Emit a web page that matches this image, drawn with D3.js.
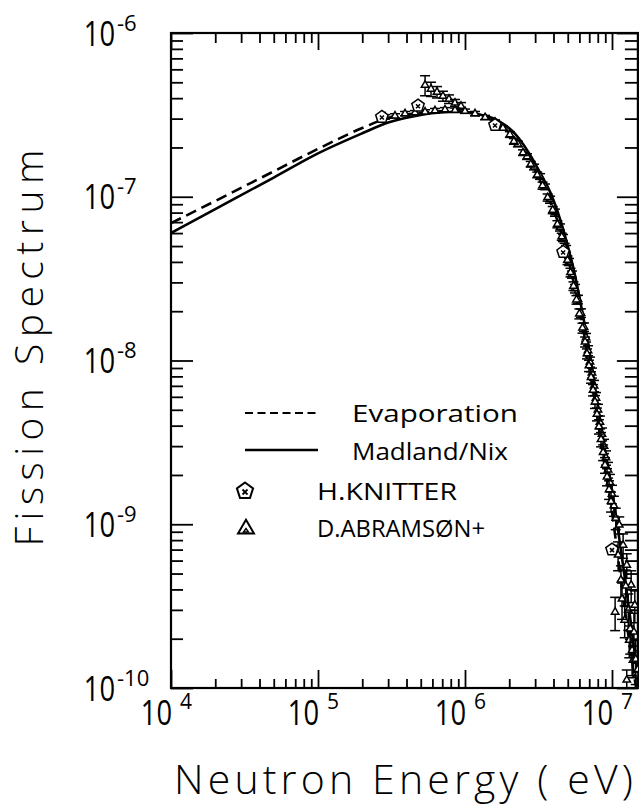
<!DOCTYPE html>
<html><head><meta charset="utf-8">
<script src="https://cdn.jsdelivr.net/npm/d3@7"></script>
<style>body{margin:0;background:#fff}svg{display:block}</style>
</head><body>
<svg id="c" width="639" height="805"></svg>
<script>
// ---------------- data ----------------
const xTicks = [1e4, 1e5, 1e6, 1e7];
const xTickExps = ["4", "5", "6", "7"];
const yTicks = [1e-6, 1e-7, 1e-8, 1e-9, 1e-10];
const yTickExps = ["-6", "-7", "-8", "-9", "-10"];

const xTitle = "Neutron Energy ( eV)";
const yTitle = "Fission Spectrum";
const legendLabels = ["Evaporation", "Madland/Nix", "H.KNITTER", "D.ABRAMSØN+"];

const curveE = [1e4, 2e4, 5e4, 1e5, 2e5, 3e5, 5e5, 8e5, 1.0e6, 1.3e6, 1.7e6, 2.2e6, 2.7e6, 3.3e6,
  3.9e6, 4.5e6, 5.0e6, 5.5e6, 6.0e6, 7.0e6, 8.0e6, 9.0e6, 1.0e7, 1.1e7, 1.2e7, 1.35e7, 1.5e7];
const madlandNix = [6.0e-8, 8.4e-8, 1.31e-7, 1.84e-7, 2.44e-7, 2.84e-7, 3.16e-7, 3.29e-7, 3.29e-7,
  3.16e-7, 2.90e-7, 2.41e-7, 1.87e-7, 1.36e-7, 1.01e-7, 7.0e-8, 5.0e-8, 3.57e-8, 2.45e-8,
  1.15e-8, 5.35e-9, 2.76e-9, 1.62e-9, 9.2e-10, 5.3e-10, 2.43e-10, 1.12e-10];
const evaporation = [6.9e-8, 9.42e-8, 1.43e-7, 1.96e-7, 2.63e-7, 3.03e-7, 3.25e-7, 3.34e-7, 3.29e-7,
  3.11e-7, 2.78e-7, 2.25e-7, 1.73e-7, 1.21e-7, 8.8e-8, 6.1e-8, 4.29e-8, 2.97e-8, 2.09e-8,
  9.4e-9, 4.33e-9, 2.14e-9, 1.19e-9, 6.2e-10, 3.44e-10, 1.59e-10, 8.5e-11];

const knitterE = [2.72e5, 4.79e5, 1.6e6, 4.65e6, 1.0e7];
const knitterV = [3.07e-7, 3.6e-7, 2.74e-7, 4.6e-8, 7.0e-10];

const abramsonE = [
  5.35e5, 5.87e5, 6.45e5, 7.08e5, 7.78e5, 8.55e5, 9.39e5,
  2.86e5, 3.34e5, 3.91e5, 4.57e5, 5.35e5, 6.25e5, 7.31e5, 8.55e5, 1.0e6, 1.17e6, 1.37e6, 1.60e6,
  1.81e6, 2.02e6, 2.29e6, 2.64e6, 2.95e6, 3.24e6, 3.50e6, 3.79e6, 4.09e6, 4.43e6, 4.64e6, 4.87e6,
  5.10e6, 5.34e6, 5.60e6, 5.87e6, 6.15e6, 6.45e6, 6.66e6, 6.87e6, 7.08e6, 7.31e6, 7.55e6, 7.78e6,
  8.03e6, 8.28e6, 8.55e6, 8.83e6, 9.10e6, 9.40e6, 9.69e6, 1.0e7, 1.03e7, 1.06e7,
  2.15e6, 2.48e6, 2.80e6, 3.10e6, 3.37e6, 3.65e6, 3.95e6, 4.25e6, 4.55e6, 4.76e6, 4.98e6, 5.22e6,
  5.47e6, 5.73e6, 6.0e6, 6.30e6, 6.56e6, 6.76e6, 6.97e6, 7.20e6, 7.43e6, 7.66e6, 7.90e6, 8.15e6,
  8.42e6, 8.70e6, 8.96e6, 9.25e6, 9.55e6, 9.85e6,
  1.05e7, 1.12e7, 1.15e7, 1.19e7, 1.22e7, 1.26e7, 1.26e7, 1.31e7, 1.35e7, 1.39e7, 1.43e7, 1.48e7,
  1.10e7, 1.17e7, 1.24e7, 1.29e7, 1.33e7, 1.37e7, 1.41e7, 1.45e7, 1.50e7];
const abramsonV = [
  4.81e-7, 4.55e-7, 4.36e-7, 4.12e-7, 3.95e-7, 3.74e-7, 3.58e-7,
  3.08e-7, 3.12e-7, 3.22e-7, 3.26e-7, 3.30e-7, 3.36e-7, 3.40e-7, 3.38e-7, 3.33e-7, 3.22e-7, 3.05e-7, 2.86e-7,
  2.63e-7, 2.40e-7, 2.10e-7, 1.76e-7, 1.52e-7, 1.33e-7, 1.15e-7, 9.6e-8, 8.0e-8, 6.5e-8, 5.6e-8, 4.8e-8,
  4.0e-8, 3.35e-8, 2.75e-8, 2.36e-8, 1.95e-8, 1.60e-8, 1.38e-8, 1.15e-8, 9.8e-9, 8.4e-9, 7.0e-9, 5.9e-9,
  5.0e-9, 4.2e-9, 3.55e-9, 3.0e-9, 2.55e-9, 2.15e-9, 1.80e-9, 1.53e-9, 1.30e-9, 1.09e-9,
  2.18e-7, 1.86e-7, 1.58e-7, 1.36e-7, 1.17e-7, 9.9e-8, 8.3e-8, 6.8e-8, 5.7e-8, 4.9e-8, 4.1e-8, 3.45e-8,
  2.85e-8, 2.35e-8, 1.93e-8, 1.58e-8, 1.30e-8, 1.10e-8, 9.3e-9, 7.9e-9, 6.6e-9, 5.6e-9, 4.7e-9, 3.95e-9,
  3.3e-9, 2.75e-9, 2.3e-9, 1.95e-9, 1.63e-9, 1.38e-9,
  2.91e-10, 9.9e-10, 4.57e-10, 7.46e-10, 2.60e-10, 5.64e-10, 1.12e-10, 1.96e-10, 4.26e-10, 1.48e-10, 3.21e-10, 1.20e-10,
  6.5e-10, 3.5e-10, 4.2e-10, 3.0e-10, 2.3e-10, 1.7e-10, 2.2e-10, 1.5e-10, 1.3e-10];
const abramsonRelErr = [
  0.14, 0.10, 0.08, 0.07, 0.06, 0.05, 0.05,
  0.03, 0.03, 0.03, 0.03, 0.03, 0.03, 0.03, 0.03, 0.03, 0.03, 0.03, 0.03,
  0.03, 0.04, 0.04, 0.04, 0.04, 0.04, 0.04, 0.05, 0.05, 0.05, 0.05, 0.05,
  0.05, 0.05, 0.06, 0.06, 0.06, 0.06, 0.06, 0.07, 0.07, 0.07, 0.08, 0.08,
  0.08, 0.09, 0.09, 0.10, 0.10, 0.11, 0.12, 0.13, 0.14, 0.15,
  0.04, 0.04, 0.04, 0.04, 0.05, 0.05, 0.05, 0.05, 0.05, 0.06, 0.06, 0.06,
  0.06, 0.06, 0.07, 0.07, 0.07, 0.07, 0.08, 0.08, 0.08, 0.09, 0.09, 0.10,
  0.10, 0.11, 0.11, 0.12, 0.13, 0.14,
  0.23, 0.12, 0.22, 0.17, 0.22, 0.17, 0.15, 0.22, 0.22, 0.22, 0.22, 0.18,
  0.20, 0.25, 0.25, 0.25, 0.30, 0.30, 0.30, 0.30, 0.30];

// ---------------- drawing ----------------
const svg = d3.select("#c");
const L = 171, T = 33, B = 688;
const x = d3.scaleLog().domain([1e4, 1.5e7]).range([L, L + 147 * Math.log10(1500)]);
const y = d3.scaleLog().domain([1e-10, 1e-6]).range([B, T]);
const R = x.range()[1];
const FONT = "'Open Sans', 'DejaVu Sans', sans-serif";

svg.append("rect").attr("width", 639).attr("height", 805).attr("fill", "#fff");

svg.append("defs").append("clipPath").attr("id", "clip")
  .append("rect").attr("x", L).attr("y", T).attr("width", R - L).attr("height", B - T);

const decadesX = [4, 5, 6, 7];
const xMinor = decadesX.flatMap(k => d3.range(2, 10).map(m => m * Math.pow(10, k)))
  .filter(v => v > x.domain()[0] && v < x.domain()[1]);
const decadesY = [-10, -9, -8, -7];
const yMinor = decadesY.flatMap(k => d3.range(2, 10).map(m => m * Math.pow(10, k)));

function tickAxis(axis, transform) {
  const g = svg.append("g").attr("transform", transform).call(axis);
  g.select(".domain").remove();
  g.selectAll("text").remove();
  g.selectAll("line").attr("stroke", "#000").attr("stroke-width", 1.8);
  return g;
}
tickAxis(d3.axisBottom(x).tickValues(xMinor).tickSize(-9).tickSizeOuter(0), `translate(0,${B})`);
tickAxis(d3.axisBottom(x).tickValues(xTicks).tickSize(-18).tickSizeOuter(0), `translate(0,${B})`);
tickAxis(d3.axisTop(x).tickValues(xMinor).tickSize(-10).tickSizeOuter(0), `translate(0,${T})`);
tickAxis(d3.axisTop(x).tickValues(xTicks).tickSize(-17).tickSizeOuter(0), `translate(0,${T})`);
tickAxis(d3.axisLeft(y).tickValues(yMinor).tickSize(-12).tickSizeOuter(0), `translate(${L},0)`);
tickAxis(d3.axisLeft(y).tickValues(yTicks).tickSize(-22).tickSizeOuter(0), `translate(${L},0)`);
tickAxis(d3.axisRight(y).tickValues(yMinor).tickSize(-13).tickSizeOuter(0), `translate(${R},0)`);
tickAxis(d3.axisRight(y).tickValues(yTicks).tickSize(-21).tickSizeOuter(0), `translate(${R},0)`);

svg.append("rect").attr("x", L).attr("y", T).attr("width", R - L).attr("height", B - T)
  .attr("fill", "none").attr("stroke", "#000").attr("stroke-width", 2.2);

// tick labels
function label(px, py, txt, size, anchor, sx) {
  svg.append("text")
    .attr("transform", `translate(${px},${py}) scale(${sx},1)`)
    .attr("text-anchor", anchor)
    .attr("font-family", FONT).attr("font-weight", 400).attr("font-size", size).attr("fill", "#000")
    .text(txt);
}
yTicks.forEach((v, i) => {
  const ty = y(v);
  label(115, ty + 12.5, "10", 35, "end", 0.78);
  label(117, ty - 2.5, yTickExps[i], 21, "start", 1.05);
});
xTicks.forEach((v, i) => {
  const tx = x(v);
  label(tx + 1, 725, "10", 35, "end", 0.78);
  label(tx + 9, 709, xTickExps[i], 21, "start", 1.0);
});

// axis titles
svg.append("text")
  .attr("x", 174).attr("y", 794)
  .attr("font-family", FONT).attr("font-weight", 350).attr("font-size", 41).attr("fill", "#000")
  .attr("textLength", 459).attr("lengthAdjust", "spacing")
  .text(xTitle);
svg.append("text")
  .attr("transform", "translate(43,348) rotate(-90)")
  .attr("text-anchor", "middle")
  .attr("font-family", FONT).attr("font-weight", 350).attr("font-size", 39).attr("fill", "#000")
  .attr("textLength", 397).attr("lengthAdjust", "spacing")
  .text(yTitle);

// plot content
const plot = svg.append("g").attr("clip-path", "url(#clip)");
const line = d3.line().curve(d3.curveMonotoneX)
  .x(d => x(d[0])).y(d => y(d[1]));

plot.append("path").datum(curveE.map((e, i) => [e, evaporation[i]]))
  .attr("d", line).attr("fill", "none").attr("stroke", "#000")
  .attr("stroke-width", 2.6).attr("stroke-dasharray", "11,6");
plot.append("path").datum(curveE.map((e, i) => [e, madlandNix[i]]))
  .attr("d", line).attr("fill", "none").attr("stroke", "#000")
  .attr("stroke-width", 2.6);

function pentagon(r) {
  const pts = d3.range(5).map(k => {
    const a = -Math.PI / 2 + k * 2 * Math.PI / 5;
    return [r * Math.cos(a), r * Math.sin(a)];
  });
  return "M" + pts.map(p => p.join(",")).join("L") + "Z";
}
const tri = d3.symbol().type(d3.symbolTriangle);

// Abramson points
const abr = abramsonE.map((e, i) => ({ e, v: abramsonV[i], r: abramsonRelErr[i] }));
const ag = plot.append("g").attr("stroke", "#000").attr("fill", "none").attr("stroke-width", 1.5);
abr.forEach(d => {
  const px = x(d.e), lo = y(d.v * (1 - d.r)), hi = y(d.v * (1 + d.r));
  ag.append("line").attr("x1", px).attr("x2", px).attr("y1", lo).attr("y2", hi);
  ag.append("line").attr("x1", px - 5).attr("x2", px + 5).attr("y1", lo).attr("y2", lo);
  ag.append("line").attr("x1", px - 5).attr("x2", px + 5).attr("y1", hi).attr("y2", hi);
  ag.append("path").attr("d", tri.size(24)()).attr("transform", `translate(${px},${y(d.v)})`)
    .attr("fill", "#fff");
});

// Knitter points
const kg = plot.append("g").attr("stroke", "#000").attr("stroke-width", 1.5);
knitterE.forEach((e, i) => {
  const px = x(e), py = y(knitterV[i]);
  kg.append("path").attr("d", pentagon(6.5)).attr("transform", `translate(${px},${py})`).attr("fill", "#fff");
  kg.append("path").attr("d", "M-2,-2L2,2M-2,2L2,-2").attr("transform", `translate(${px},${py + 0.5})`).attr("fill", "none");
});

// legend
const lg = svg.append("g");
lg.append("line").attr("x1", 245).attr("x2", 318).attr("y1", 413).attr("y2", 413)
  .attr("stroke", "#000").attr("stroke-width", 2.2).attr("stroke-dasharray", "8,4.5");
lg.append("line").attr("x1", 245).attr("x2", 318).attr("y1", 450).attr("y2", 450)
  .attr("stroke", "#000").attr("stroke-width", 2.4);
lg.append("path").attr("d", pentagon(8.5)).attr("transform", "translate(245,491)")
  .attr("fill", "#fff").attr("stroke", "#000").attr("stroke-width", 2);
lg.append("path").attr("d", "M-2.5,-2.5L2.5,2.5M-2.5,2.5L2.5,-2.5").attr("transform", "translate(245,492)")
  .attr("stroke", "#000").attr("stroke-width", 1.8);
lg.append("path").attr("d", d3.symbol().type(d3.symbolTriangle).size(110)()).attr("transform", "translate(246,529)")
  .attr("fill", "#fff").attr("stroke", "#000").attr("stroke-width", 2);
lg.append("path").attr("d", "M-2.5,2L0,-1.5L2.5,2Z").attr("transform", "translate(246,530)")
  .attr("fill", "none").attr("stroke", "#000").attr("stroke-width", 1.4);

const legPos = [[352, 422, 166], [352, 460, 156], [317, 500, 140], [317, 537, 168]];
legendLabels.forEach((t, i) => {
  lg.append("text").attr("x", legPos[i][0]).attr("y", legPos[i][1])
    .attr("font-family", FONT).attr("font-weight", 400).attr("font-size", 24).attr("fill", "#000")
    .attr("textLength", legPos[i][2]).attr("lengthAdjust", "spacingAndGlyphs")
    .text(t);
});
</script>
</body></html>
